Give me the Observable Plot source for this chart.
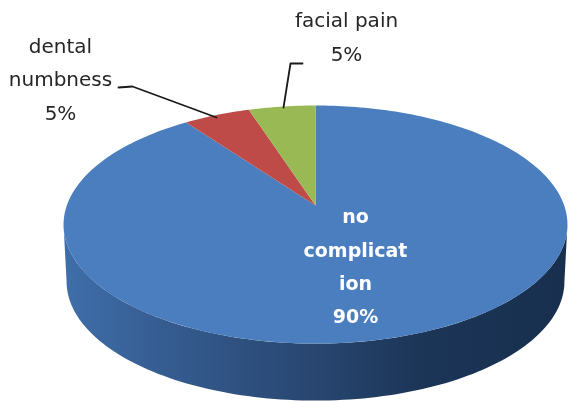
<!DOCTYPE html>
<html>
<head>
<meta charset="utf-8">
<script src="https://cdn.jsdelivr.net/npm/d3@7"></script>
<script src="https://cdn.jsdelivr.net/npm/@observablehq/plot@0.6"></script>
<style>
html,body{margin:0;padding:0;background:#fff;overflow:hidden}
svg{display:block;filter:blur(0.45px)}
</style>
</head>
<body>
<div id="chart"></div>
<script>
const categories = ["no\ncomplicat\nion", "dental\nnumbness", "facial pain"];
const shares = [90, 5, 5];
const sliceColors = ["#4a7ebf", "#be4b48", "#98b954"];
const textColors = ["#ffffff", "#262626", "#262626"];

// layout (pixels) kept apart from the values
const W = 581, H = 402;
const apex = [315, 205], radiusX = 248.7, radiusY = 116, tilt = 0.16, depth = 57;
const labelAt = [[355, 262], [60, 75], [346, 33]];
const leaders = [
  [[118, 87], [132, 86], [216, 117]],
  [[302, 63], [290, 63], [283, 107]]
];

const px = p => (p - apex[0]) / radiusX;
const py = p => (apex[1] - p) / radiusY;

// A circle in the pie's plane seen in perspective.
const project = (a, r = 1, shrink = 1, drop = 0) => {
  const X = r * Math.sin(a) * shrink, Y = r * Math.cos(a);
  const w = 1 + tilt * Y;
  return {x: X / w, y: Y / w - drop};
};
const range = (a0, a1, n = 120) => d3.range(n + 1).map(i => a0 + (a1 - a0) * i / n);

const total = d3.sum(shares);
const ends = Array.from(d3.cumsum(shares), v => v / total * 2 * Math.PI);
const slices = shares.map((v, i) => {
  const a0 = i ? ends[i - 1] : 0, a1 = ends[i];
  return [{x: 0, y: 0}, ...range(a0, a1, Math.max(8, Math.round(v * 3))).map(a => project(a)), {x: 0, y: 0}];
});

// Extruded rim: the front half between the top edge and the lower edge.
const side = Math.asin(tilt);
const frontStart = Math.PI / 2 + side, frontEnd = 3 * Math.PI / 2 - side;
const rim = [
  ...range(frontStart, frontEnd).map(a => project(a)),
  ...range(frontEnd, frontStart).map(a => project(a, 1, 0.988, depth / radiusY))
];

const labels = categories.map((c, i) => ({
  text: `${c}\n${shares[i]}%`, x: px(labelAt[i][0]), y: py(labelAt[i][1]), color: textColors[i]
}));

const gradient = () => {
  const svgNS = "http://www.w3.org/2000/svg";
  const defs = document.createElementNS(svgNS, "defs");
  const g = document.createElementNS(svgNS, "linearGradient");
  g.setAttribute("id", "rimGradient");
  [[0, "#3f6ea9"], [0.25, "#33588b"], [0.5, "#284670"], [0.7, "#1c3658"], [1, "#182f4e"]].forEach(([o, c]) => {
    const s = document.createElementNS(svgNS, "stop");
    s.setAttribute("offset", o); s.setAttribute("stop-color", c);
    g.appendChild(s);
  });
  defs.appendChild(g);
  return defs;
};

const chart = Plot.plot({
  width: W, height: H,
  margin: 0,
  x: {domain: [-1, 1], range: [apex[0] - radiusX, apex[0] + radiusX], axis: null},
  y: {domain: [-1, 1], range: [apex[1] + radiusY, apex[1] - radiusY], axis: null},
  style: {background: "#fff", overflow: "visible"},
  marks: [
    gradient,
    Plot.line(rim, {x: "x", y: "y", fill: "url(#rimGradient)", stroke: "none"}),
    ...slices.map((s, i) => Plot.line(s, {x: "x", y: "y", fill: sliceColors[i], stroke: "none"})),
    ...leaders.map(l => Plot.line(l.map(([a, b]) => ({x: px(a), y: py(b)})), {x: "x", y: "y", stroke: "#1a1a1a", strokeWidth: 1.8})),
    Plot.text(labels.slice(0, 1), {
      x: "x", y: "y", text: "text", fill: "color",
      fontFamily: "DejaVu Sans", fontWeight: "bold", fontSize: 19, lineHeight: 1.75,
      textAnchor: "middle", lineAnchor: "middle"
    }),
    Plot.text(labels.slice(1), {
      x: "x", y: "y", text: "text", fill: "color",
      fontFamily: "DejaVu Sans", fontSize: 20, lineHeight: 1.68,
      textAnchor: "middle", lineAnchor: "middle"
    })
  ]
});
document.getElementById("chart").appendChild(chart);
</script>
</body>
</html>
